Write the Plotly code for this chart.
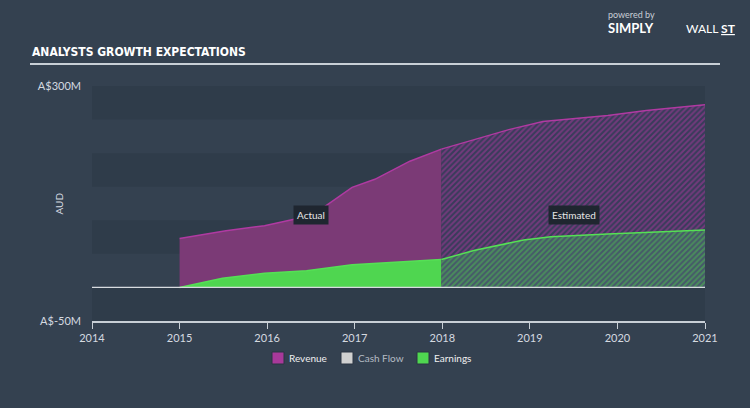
import plotly.graph_objects as go

# ---------------- data (A$ millions) ----------------
rev_actual_x = [2015.0, 2015.53, 2015.97, 2016.32, 2016.62, 2016.97, 2017.23, 2017.63, 2017.99]
rev_actual_y = [73, 84.5, 92, 102, 117, 149, 161, 188, 206]
rev_est_x = [2017.99, 2018.36, 2018.76, 2019.15, 2019.46, 2019.89, 2020.33, 2021.0]
rev_est_y = [206, 220, 235, 247, 251, 256, 263.5, 272]

earn_actual_x = [2015.0, 2015.49, 2015.97, 2016.45, 2016.97, 2017.49, 2017.99]
earn_actual_y = [0, 13.8, 21, 25, 33.6, 37.5, 41.5]
earn_est_x = [2017.99, 2018.36, 2018.93, 2019.24, 2019.89, 2021.0]
earn_est_y = [41.5, 55, 70.7, 75.6, 79.6, 85.5]

year_ticks = [2014, 2015, 2016, 2017, 2018, 2019, 2020, 2021]
y_ticks = [-50, 300]
y_tick_text = ["A$-50M", "A$300M"]
band_edges = [300, 250, 200, 150, 100, 50, 0, -50]
legend_names = ["Revenue", "Cash Flow", "Earnings"]

# ---------------- styles ----------------
BG = "#344150"
BAND_DARK = "#2f3c4a"
REV_LINE = "#b03aa2"
REV_FILL = "#7b3a76"
EARN_LINE = "#55e055"
EARN_FILL = "#4fd650"
TXT = "#d5dae0"
FONT = "Lato, 'Open Sans', sans-serif"

# plot area in pixels: x 92..705, y 86..321
def px_x(px):
    return (px - 92) / 613
def px_y(py):
    return (321 - py) / 235

fig = go.Figure()

fig.add_trace(go.Scatter(x=rev_actual_x, y=rev_actual_y, mode="lines", fill="tozeroy",
                         line=dict(color=REV_LINE, width=1.5), fillcolor=REV_FILL,
                         showlegend=False, hoverinfo="skip"))
fig.add_trace(go.Scatter(x=rev_est_x, y=rev_est_y, mode="lines", fill="tozeroy",
                         line=dict(color=REV_LINE, width=1.5),
                         fillpattern=dict(shape="/", fgcolor="#ad379e", bgcolor="#383c5a",
                                          size=4, solidity=0.5),
                         showlegend=False, hoverinfo="skip"))
fig.add_trace(go.Scatter(x=earn_actual_x, y=earn_actual_y, mode="lines", fill="tozeroy",
                         line=dict(color=EARN_LINE, width=1.5), fillcolor=EARN_FILL,
                         showlegend=False, hoverinfo="skip"))
fig.add_trace(go.Scatter(x=earn_est_x, y=earn_est_y, mode="lines", fill="tozeroy",
                         line=dict(color=EARN_LINE, width=1.5),
                         fillpattern=dict(shape="/", fgcolor="#4ec24e", bgcolor="#46586a",
                                          size=4, solidity=0.5),
                         showlegend=False, hoverinfo="skip"))

shapes = []
for i in range(0, len(band_edges) - 1, 2):
    shapes.append(dict(type="rect", xref="paper", yref="y", x0=0, x1=1,
                       y0=band_edges[i + 1], y1=band_edges[i], fillcolor=BAND_DARK,
                       line=dict(width=0), layer="below"))
shapes.append(dict(type="line", xref="paper", yref="paper",
                   x0=px_x(30), x1=px_x(720), y0=px_y(64), y1=px_y(64),
                   line=dict(color="#c8cfd6", width=2)))
shapes.append(dict(type="line", xref="paper", yref="y", x0=0, x1=1, y0=0, y1=0,
                   line=dict(color="#d8dce0", width=1.2), layer="above"))

annotations = [
    dict(x=2016.5, y=108, xref="x", yref="y", text="Actual", showarrow=False,
         font=dict(color="#e6e6e6", size=10, family=FONT), bgcolor="#1f2630", borderpad=3),
    dict(x=2019.5, y=108, xref="x", yref="y", text="Estimated", showarrow=False,
         font=dict(color="#e6e6e6", size=10, family=FONT), bgcolor="#1f2630", borderpad=3),
    dict(x=px_x(30), y=px_y(52), xref="paper", yref="paper", text="<b>ANALYSTS GROWTH EXPECTATIONS</b>",
         showarrow=False, xanchor="left", yanchor="middle",
         font=dict(color="#ffffff", size=12, family="'DejaVu Sans Condensed', sans-serif")),
    dict(x=px_x(58), y=0.5, xref="paper", yref="paper", text="AUD", textangle=-90, showarrow=False,
         xanchor="center", yanchor="middle", font=dict(color=TXT, size=10, family=FONT)),
    dict(x=px_x(606), y=px_y(14), xref="paper", yref="paper", text="powered by", showarrow=False,
         xanchor="left", yanchor="middle", font=dict(color="#c8ced6", size=9, family=FONT)),
    dict(x=px_x(606), y=px_y(28), xref="paper", yref="paper", text="<b>SIMPLY</b>", showarrow=False,
         xanchor="left", yanchor="middle", font=dict(color="#ffffff", size=13, family=FONT)),
    dict(x=px_x(684), y=px_y(28), xref="paper", yref="paper", text="WALL <u><b>ST</b></u>",
         showarrow=False, xanchor="left", yanchor="middle",
         font=dict(color="#ffffff", size=12, family=FONT)),
]

# manual legend
legend_sw = ["#a8399a", "#d0d0d0", "#4fd650"]
legend_txtcol = ["#f0f0f0", "#b4bcc4", "#f0f0f0"]
legend_px = [272, 341, 417]
for name, sw, tc, lx in zip(legend_names, legend_sw, legend_txtcol, legend_px):
    shapes.append(dict(type="rect", xref="paper", yref="paper",
                       x0=px_x(lx), x1=px_x(lx + 12), y0=px_y(364), y1=px_y(352),
                       fillcolor=sw, line=dict(color="#2a3542", width=1)))
    annotations.append(dict(x=px_x(lx + 15), y=px_y(358), xref="paper", yref="paper",
                            text=name, showarrow=False, xanchor="left", yanchor="middle",
                            font=dict(color=tc, size=10, family=FONT)))

fig.update_layout(
    width=750, height=408,
    margin=dict(l=92, r=45, t=86, b=87),
    paper_bgcolor=BG, plot_bgcolor=BG,
    shapes=shapes, annotations=annotations,
    showlegend=False,
    xaxis=dict(range=[2014, 2021], tickvals=year_ticks, ticktext=[str(v) for v in year_ticks],
               showgrid=False, zeroline=False, showline=True, linecolor="#c8cfd6", linewidth=1.5,
               ticks="outside", ticklen=6, tickcolor="#c8cfd6",
               tickfont=dict(color=TXT, size=11, family=FONT)),
    yaxis=dict(range=[-50, 300], tickvals=y_ticks, ticktext=y_tick_text, showgrid=False,
               zeroline=False, showline=False, ticks="", ticklabelstandoff=10,
               tickfont=dict(color=TXT, size=11, family=FONT)),
    font=dict(family=FONT),
)

fig.write_html("out.html")
